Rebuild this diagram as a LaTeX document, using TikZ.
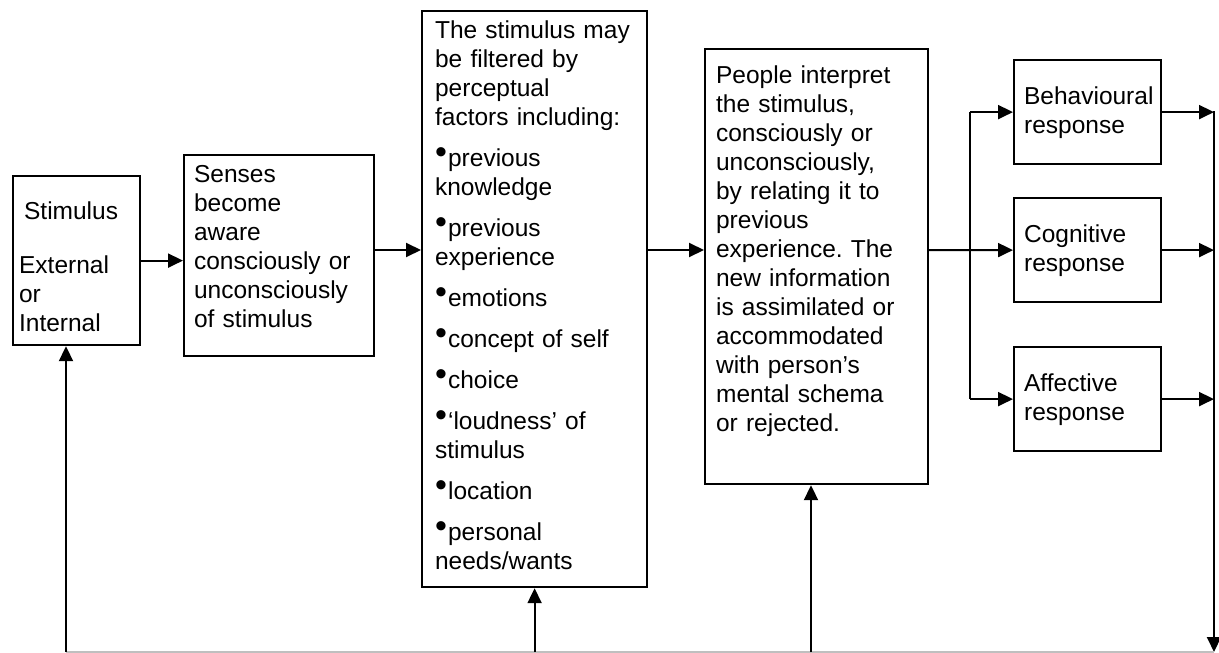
\documentclass[tikz,border=0pt]{standalone}
\usepackage{fontspec}
\setmainfont{Liberation Sans}
\usepackage{tikz}
\usetikzlibrary{arrows.meta}
\hyphenpenalty=10000
\frenchspacing
\newcommand\bul{\makebox[13pt][l]{\raisebox{3pt}{\fontsize{34}{29}\selectfont\char"2022}}}

\begin{document}
\begin{tikzpicture}[x=1pt, y=-1pt,
      >={Triangle[length=15pt,width=14pt]},
      box/.style={draw, line width=2.2pt, anchor=north west, inner ysep=0pt, align=left,
                  font=\fontsize{24.5}{29}\selectfont},
      resp/.style={box, inner xsep=10pt, text width=127pt, text height=44pt, text depth=60pt},
      flow/.style={->, line width=2pt},
      fbline/.style={line width=1.5pt, black!25}]
    \useasboundingbox (0,0) rectangle (1219,653);
    \node[box, inner xsep=6pt, text width=115pt, text height=43pt, text depth=126pt] (stim) at (12,175)
      {\hspace{5pt}Stimulus\\[25pt]External\\or\\Internal};
    \node[box, inner xsep=10pt, text width=170pt, text height=27pt, text depth=174pt] (senses) at (183,154)
      {Senses\\become\\aware\\consciously or\\unconsciously\\of stimulus};
    \node[box, inner xsep=13pt, text width=199pt, text height=27pt, text depth=549pt] (filter) at (421,10)
      {The stimulus may\\be filtered by\\perceptual\\factors including:\\[12pt]
       \bul previous\\knowledge\\[12pt]\bul previous\\experience\\[12pt]\bul emotions\\[12pt]
       \bul concept of self\\[12pt]\bul choice\\[12pt]\bul ‘loudness’ of\\stimulus\\[12pt]
       \bul location\\[12pt]\bul personal\\needs/wants};
    \node[box, inner xsep=11pt, text width=201pt, text height=34pt, text depth=401pt] (interp) at (704,48)
      {People interpret\\the stimulus,\\consciously or\\unconsciously,\\by relating it to\\previous\\
       experience. The\\new information\\is assimilated or\\accommodated\\with person’s\\mental schema\\or rejected.};
    \node[resp] (beh) at (1013,59) {Behavioural\\response};
    \node[resp] (cog) at (1013,197) {Cognitive\\response};
    \node[resp] (aff) at (1013,346) {Affective\\response};

    \coordinate (row) at (0,250);
    \coordinate (split) at (970,250);
    \coordinate (outx) at (1214,111);
    \coordinate (fbR) at (1214,652);
    \coordinate (fbL) at (66,652);
    \coordinate (fbM) at (811,652);

    \draw[flow] (stim.east) -- (stim.east -| senses.west);
    \draw[flow] (row -| senses.east) -- (row -| filter.west);
    \draw[flow] (row -| filter.east) -- (row -| interp.west);
    \draw[flow] (row -| interp.east) -- (cog.west);
    \draw[line width=2pt] (split |- beh.west) -- (split |- aff.west);
    \draw[flow] (split |- beh.west) -- (beh.west);
    \draw[flow] (split |- aff.west) -- (aff.west);
    \foreach \r in {beh,cog,aff}
      \draw[flow] (\r.east) -- (\r.east -| outx);
    \draw[flow] (outx) -- (fbR);
    \draw[fbline] (fbL) -- (fbR);
    \draw[flow] (fbL) -- (fbL |- stim.south);
    \draw[flow] (filter.south |- fbL) -- (filter.south);
    \draw[flow] (fbM) -- (fbM |- interp.south);
  \end{tikzpicture}
\end{document}
